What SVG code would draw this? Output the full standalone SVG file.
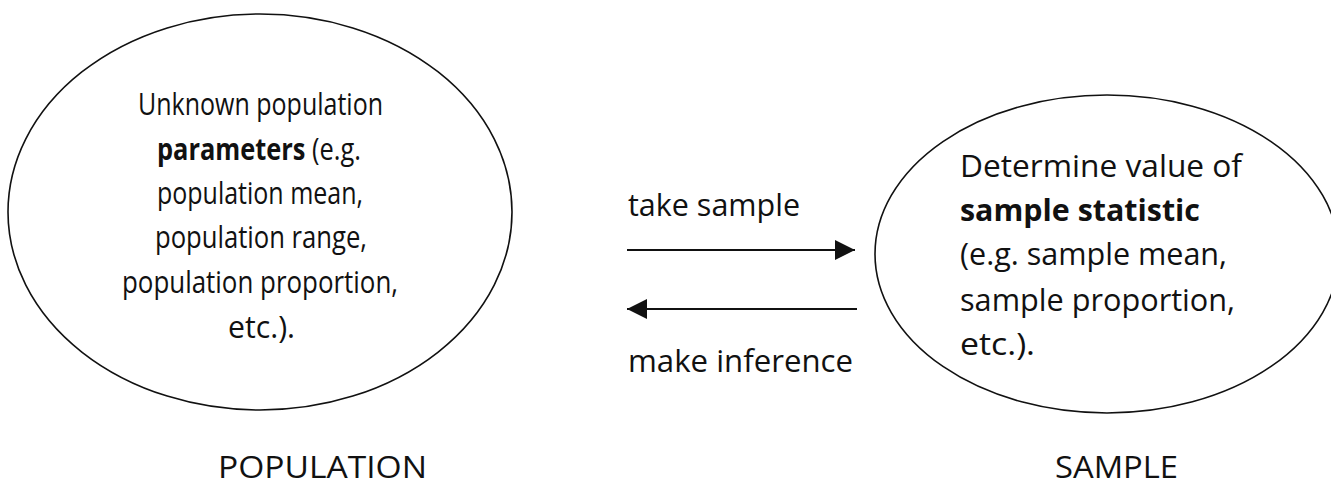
<svg xmlns="http://www.w3.org/2000/svg" width="1331" height="487" viewBox="0 0 1331 487">
<style>
.shape{fill:#fff;stroke:#111;stroke-width:1.6}
.t{font-family:"Open Sans","Liberation Sans",sans-serif;font-size:31px;fill:#111}
.b{font-weight:bold}
.conn{stroke:#111;stroke-width:2;fill:none}
</style>
<defs>
<marker id="ah" viewBox="0 0 20 20" refX="20" refY="10" markerWidth="20" markerHeight="20" markerUnits="userSpaceOnUse" orient="auto">
<path d="M0,0 L20,10 L0,20 Z" fill="#111"/>
</marker>
</defs>
<rect width="1331" height="487" fill="#fff"/>
<g id="population">
<ellipse class="shape" cx="260" cy="212" rx="252" ry="198"/>
<text class="t" x="138" y="115" textLength="245" lengthAdjust="spacingAndGlyphs">Unknown population</text>
<text class="t" x="0" y="0" transform="translate(157,160) scale(0.82,1)"><tspan class="b">parameters</tspan> (e.g.</text>
<text class="t" x="157" y="204" textLength="206" lengthAdjust="spacingAndGlyphs">population mean,</text>
<text class="t" x="155" y="248" textLength="212" lengthAdjust="spacingAndGlyphs">population range,</text>
<text class="t" x="122" y="293" textLength="276" lengthAdjust="spacingAndGlyphs">population proportion,</text>
<text class="t" x="228" y="338" textLength="67" lengthAdjust="spacingAndGlyphs">etc.).</text>
<text class="t" x="218" y="478" textLength="209" lengthAdjust="spacingAndGlyphs">POPULATION</text>
</g>
<g id="sample">
<ellipse class="shape" cx="1107" cy="254" rx="232" ry="159"/>
<text class="t" x="960" y="177" textLength="282" lengthAdjust="spacingAndGlyphs">Determine value of</text>
<text class="t b" x="960" y="221" textLength="240" lengthAdjust="spacingAndGlyphs">sample statistic</text>
<text class="t" x="960" y="265" textLength="267" lengthAdjust="spacingAndGlyphs">(e.g. sample mean,</text>
<text class="t" x="960" y="311" textLength="275" lengthAdjust="spacingAndGlyphs">sample proportion,</text>
<text class="t" x="960" y="355" textLength="75" lengthAdjust="spacingAndGlyphs">etc.).</text>
<text class="t" x="1055" y="478" textLength="123" lengthAdjust="spacingAndGlyphs">SAMPLE</text>
</g>
<g id="connectors">
<line class="conn" x1="627" y1="250" x2="855" y2="250" marker-end="url(#ah)"/>
<line class="conn" x1="857" y1="309" x2="627" y2="309" marker-end="url(#ah)"/>
<text class="t" x="628" y="216" textLength="172" lengthAdjust="spacingAndGlyphs">take sample</text>
<text class="t" x="628" y="372" textLength="225" lengthAdjust="spacingAndGlyphs">make inference</text>
</g>
</svg>
